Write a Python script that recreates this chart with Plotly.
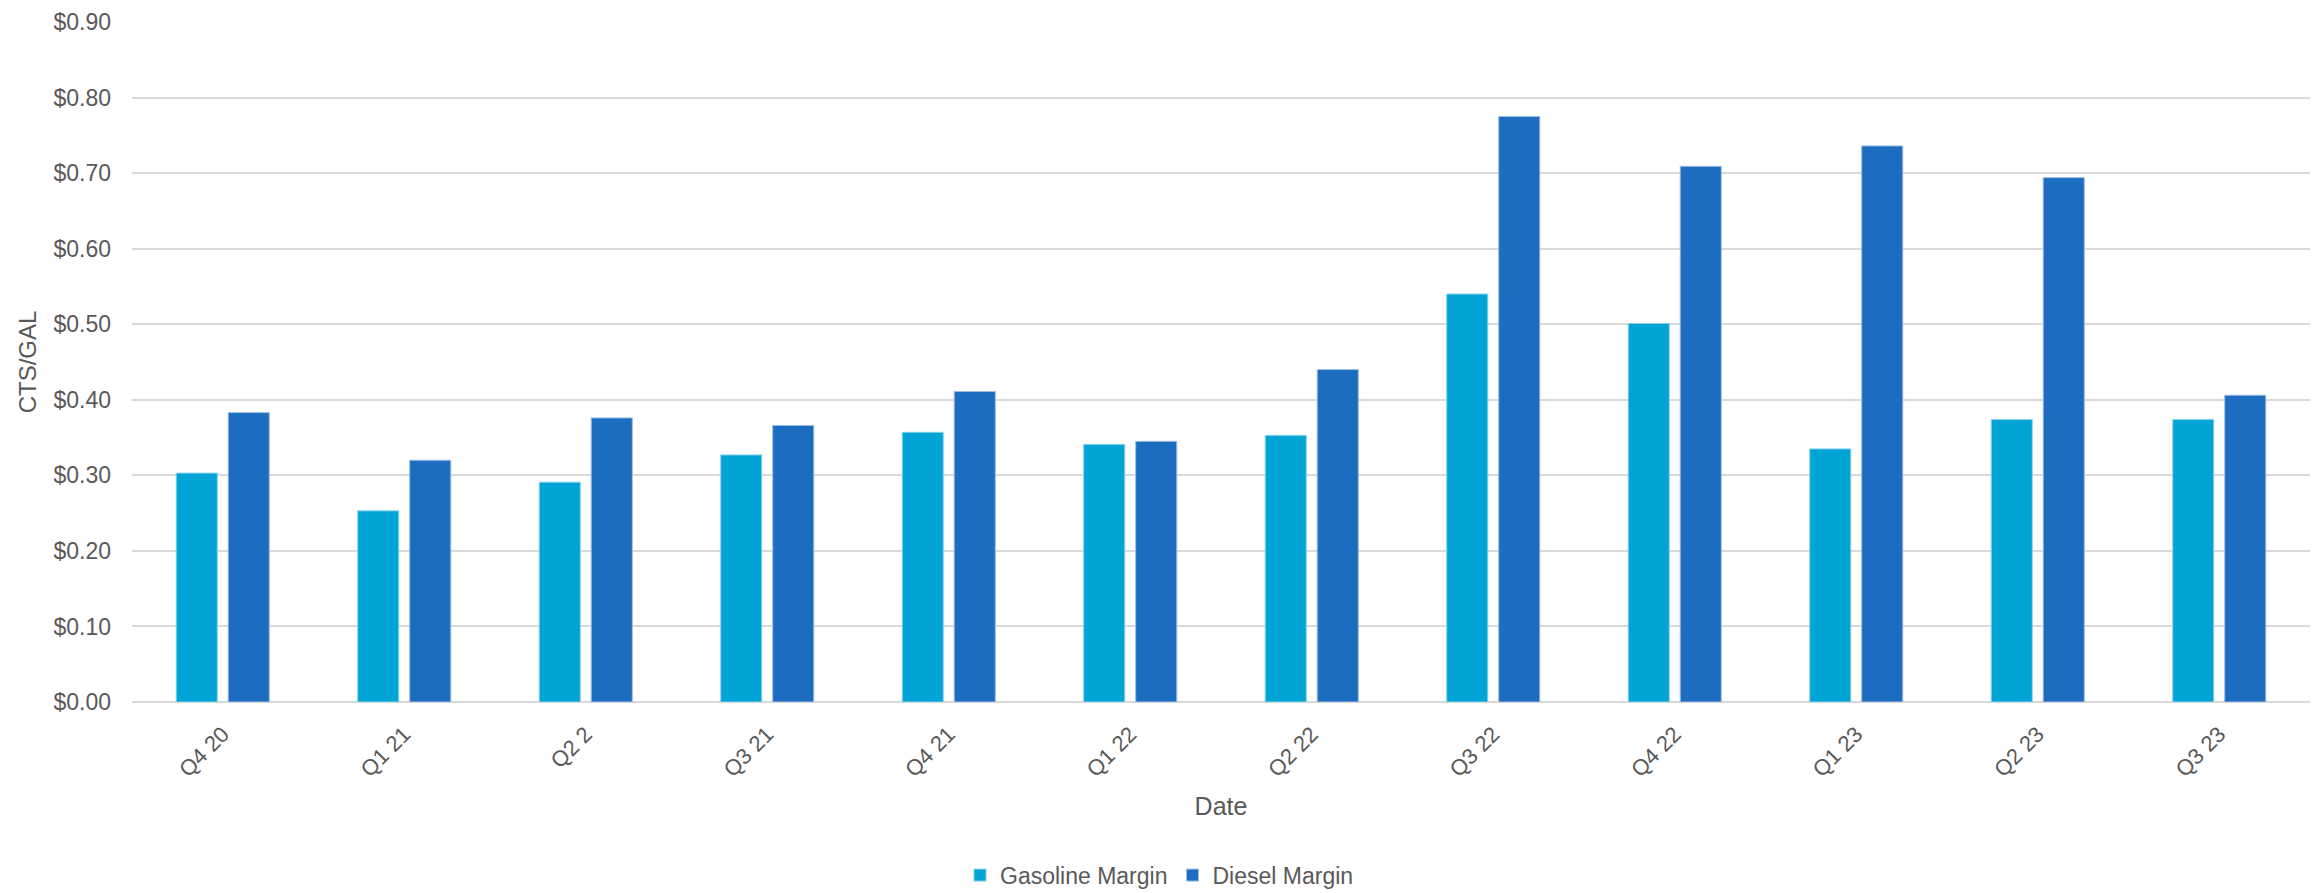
import plotly.graph_objects as go

categories = ["Q4 20", "Q1 21", "Q2 2", "Q3 21", "Q4 21", "Q1 22",
              "Q2 22", "Q3 22", "Q4 22", "Q1 23", "Q2 23", "Q3 23"]
gasoline = [0.303, 0.253, 0.291, 0.327, 0.357, 0.341, 0.353, 0.540, 0.501, 0.335, 0.374, 0.374]
diesel = [0.383, 0.320, 0.376, 0.366, 0.411, 0.345, 0.440, 0.775, 0.709, 0.736, 0.694, 0.406]
y_ticks = [0.0, 0.1, 0.2, 0.3, 0.4, 0.5, 0.6, 0.7, 0.8, 0.9]

FONT = "Liberation Sans, Arial, sans-serif"
TEXT = "#595959"

fig = go.Figure()
fig.add_trace(go.Bar(x=categories, y=gasoline, name="Gasoline Margin",
                     marker=dict(color="#02A4D6", line=dict(color="#8AD3EE", width=1))))
fig.add_trace(go.Bar(x=categories, y=diesel, name="Diesel Margin",
                     marker=dict(color="#1C6DC0", line=dict(color="#9DBDE6", width=1))))

fig.update_layout(
    width=2319, height=893,
    margin=dict(l=132, r=9, t=17, b=191),
    paper_bgcolor="white", plot_bgcolor="white",
    barmode="group", bargap=0.427, bargroupgap=0.21,
    font=dict(family=FONT, color=TEXT, size=22),
    showlegend=True,
    legend=dict(orientation="h", xref="container", yref="container",
                x=0.5, xanchor="center", y=0.02, yanchor="middle",
                font=dict(size=23, color=TEXT), itemwidth=30,
                traceorder="normal"),
    xaxis=dict(
        title=dict(text="Date", font=dict(size=25, color=TEXT), standoff=16),
        tickangle=-45, tickfont=dict(size=22, color=TEXT),
        showgrid=False, showline=False, ticks="", ticklabelstandoff=14,
    ),
    yaxis=dict(
        title=dict(text="CTS/GAL", font=dict(size=24, color=TEXT), standoff=10),
        range=[0, 0.9], tickvals=y_ticks,
        ticktext=[f"${v:.2f}" for v in y_ticks],
        tickfont=dict(size=23, color=TEXT),
        showgrid=True, gridcolor="#D9D9D9", gridwidth=2,
        zeroline=True, zerolinecolor="#D9D9D9", zerolinewidth=2,
        showline=False, ticks="", ticklabelstandoff=20,
    ),
)

fig.write_html("out.html")
